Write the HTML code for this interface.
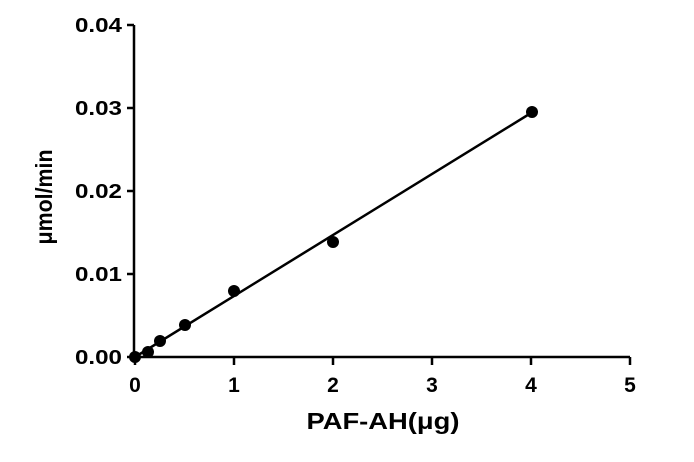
<!DOCTYPE html>
<html><head><style>body{margin:0;background:#fff}</style></head><body>
<svg width="694" height="457" xmlns="http://www.w3.org/2000/svg" font-family="Liberation Sans, Arial, sans-serif" font-weight="bold">
<g stroke="#000" stroke-width="2.5" fill="none">
<path d="M134,25 V357 H630"/>
<path d="M127,25 H134 M127,108 H134 M127,191 H134 M127,274 H134 M127,357 H134"/>
<path d="M135,357 V365 M234,357 V365 M333,357 V365 M432,357 V365 M531,357 V365 M630,357 V365"/>
<path d="M135,357 L531,113" stroke-width="2.5"/>
</g>
<g fill="#000">
<circle cx="135" cy="357" r="6"/><circle cx="148" cy="352" r="6"/><circle cx="160" cy="341" r="6"/>
<circle cx="185" cy="325" r="6"/><circle cx="234" cy="291" r="6"/><circle cx="333" cy="242" r="6"/><circle cx="532" cy="112" r="6"/>
</g>
<g font-size="20" text-anchor="end">
<text x="122" y="32" textLength="47" lengthAdjust="spacingAndGlyphs">0.04</text>
<text x="122" y="115" textLength="47" lengthAdjust="spacingAndGlyphs">0.03</text>
<text x="122" y="198" textLength="47" lengthAdjust="spacingAndGlyphs">0.02</text>
<text x="122" y="281" textLength="47" lengthAdjust="spacingAndGlyphs">0.01</text>
<text x="122" y="364" textLength="47" lengthAdjust="spacingAndGlyphs">0.00</text>
</g>
<g font-size="21" text-anchor="middle">
<text x="135" y="392">0</text><text x="234" y="392">1</text><text x="333" y="392">2</text><text x="432" y="392">3</text><text x="531" y="392">4</text><text x="630" y="392">5</text>
<text x="383" y="429" font-size="23" textLength="153" lengthAdjust="spacingAndGlyphs">PAF-AH(μg)</text>
<text transform="translate(52,197) rotate(-90)" font-size="23" textLength="95" lengthAdjust="spacingAndGlyphs">μmol/min</text>
</g>
</svg>
</body></html>
